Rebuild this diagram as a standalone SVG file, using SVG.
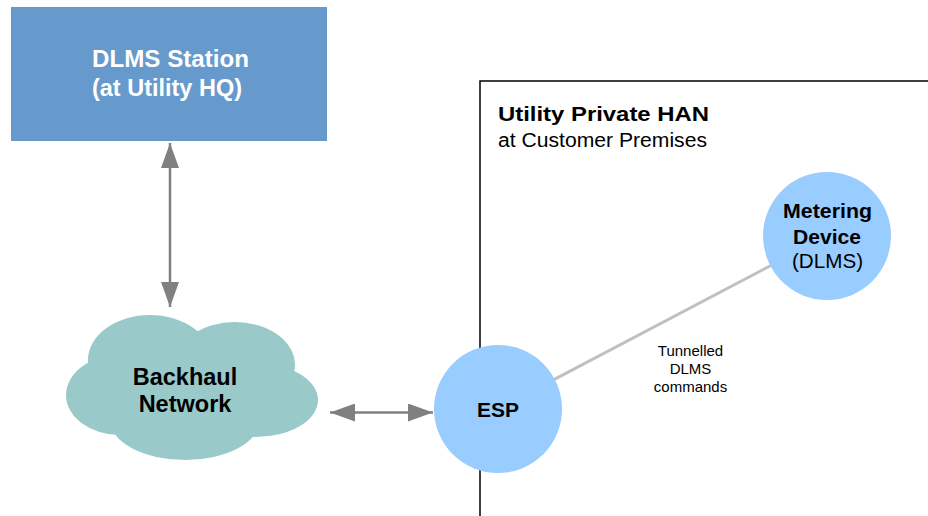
<svg xmlns="http://www.w3.org/2000/svg" width="928" height="516" viewBox="0 0 928 516">
<style>
.b{font-family:"Liberation Sans",Arial,sans-serif;font-weight:bold;text-anchor:middle}
.n{font-family:"Liberation Sans",Arial,sans-serif;text-anchor:middle}
.arr{stroke:#808080;stroke-width:2.5;fill:none}
</style>
<defs>
<marker id="ah" viewBox="0 0 25 18" refX="25" refY="9" markerWidth="25" markerHeight="18" markerUnits="userSpaceOnUse" orient="auto-start-reverse">
<path d="M0,0 L25,9 L0,18 z" fill="#808080"/>
</marker>
</defs>
<rect width="928" height="516" fill="#fff"/>
<g id="han">
<path d="M480,516 V81 H928" fill="none" stroke="#000" stroke-width="1.5"/>
<text class="b" x="498" y="121" font-size="20" style="text-anchor:start" textLength="211" lengthAdjust="spacingAndGlyphs">Utility Private HAN</text>
<text class="n" x="498" y="147" font-size="19.5" style="text-anchor:start" textLength="209" lengthAdjust="spacingAndGlyphs">at Customer Premises</text>
</g>
<g id="connectors">
<line x1="498" y1="409" x2="827" y2="236" stroke="#c0c0c0" stroke-width="3"/>
<line class="arr" x1="170" y1="143" x2="170" y2="307" marker-start="url(#ah)" marker-end="url(#ah)"/>
<line class="arr" x1="330" y1="412.5" x2="433" y2="412.5" marker-start="url(#ah)" marker-end="url(#ah)"/>
<text class="n" font-size="15" fill="#000"><tspan x="690.5" y="355.5">Tunnelled</tspan><tspan x="690.5" y="374">DLMS</tspan><tspan x="690.5" y="392">commands</tspan></text>
</g>
<g id="station">
<rect x="11" y="7" width="316" height="134" fill="#6699cc"/>
<text class="b" x="170.5" y="67" font-size="23" fill="#fff" textLength="157" lengthAdjust="spacingAndGlyphs">DLMS Station</text>
<text class="b" x="167" y="96" font-size="23" fill="#fff" textLength="150" lengthAdjust="spacingAndGlyphs">(at Utility HQ)</text>
</g>
<g id="backhaul" fill="#99c9c9">
<ellipse cx="150" cy="360" rx="62" ry="45"/>
<ellipse cx="235" cy="365" rx="60" ry="43"/>
<ellipse cx="255" cy="400" rx="63" ry="37"/>
<ellipse cx="185" cy="420" rx="75" ry="40"/>
<ellipse cx="120" cy="395" rx="54" ry="40"/>
<ellipse cx="190" cy="390" rx="100" ry="50"/>
<text class="b" x="185" y="385" font-size="23.5" fill="#000">Backhaul</text>
<text class="b" x="185" y="412" font-size="23.5" fill="#000">Network</text>
</g>
<g id="esp">
<circle cx="498" cy="409" r="64" fill="#99ccff"/>
<text class="b" x="498" y="417" font-size="20" fill="#000" textLength="42" lengthAdjust="spacingAndGlyphs">ESP</text>
</g>
<g id="meter">
<circle cx="827" cy="236" r="64" fill="#99ccff"/>
<text class="b" x="827.5" y="217.5" font-size="19.5" fill="#000" textLength="89" lengthAdjust="spacingAndGlyphs">Metering</text>
<text class="b" x="827" y="243.5" font-size="19.5" fill="#000" textLength="68" lengthAdjust="spacingAndGlyphs">Device</text>
<text class="n" x="827.5" y="268" font-size="20" fill="#000" textLength="71" lengthAdjust="spacingAndGlyphs">(DLMS)</text>
</g>
</svg>
